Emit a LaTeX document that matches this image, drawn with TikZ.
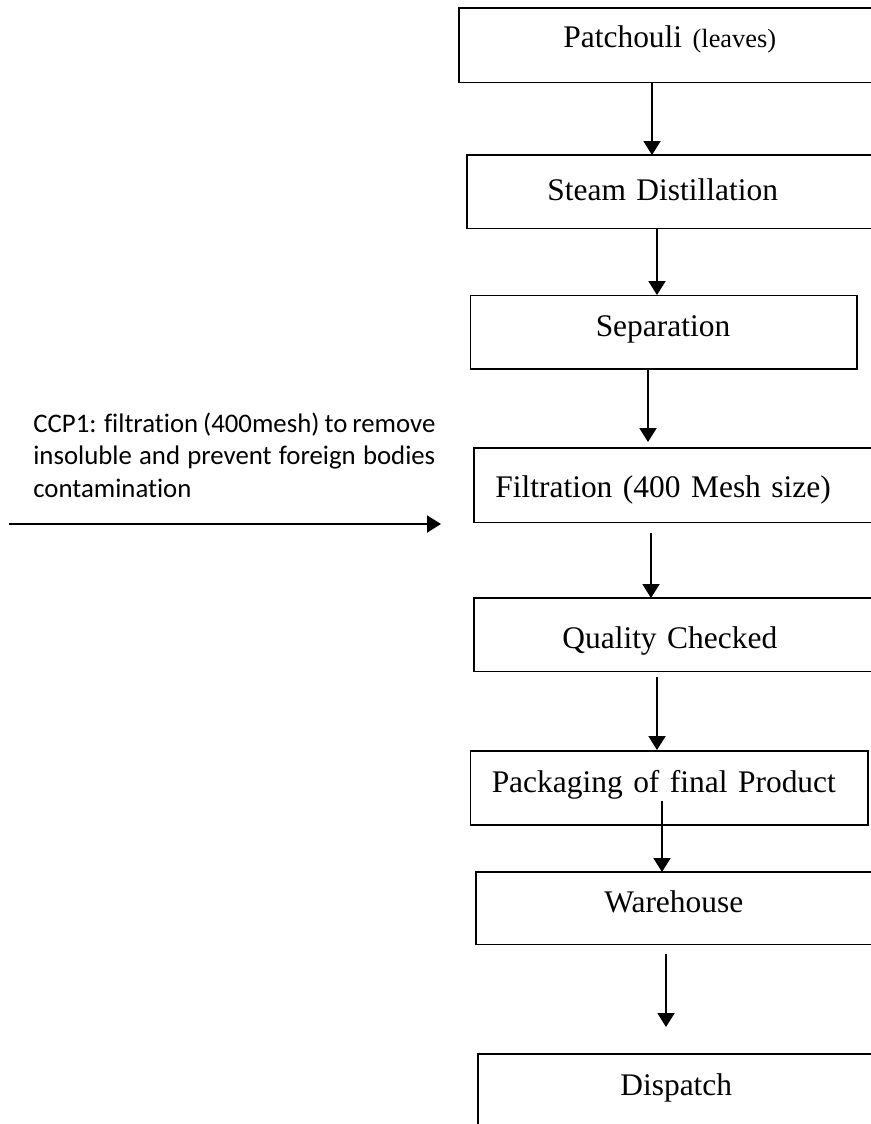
\documentclass[tikz,border=0pt]{standalone}
\usepackage{fontspec}
\setmainfont{Liberation Serif}
\newfontfamily\notefont[Ligatures=NoCommon]{Carlito}
\usetikzlibrary{arrows.meta}
\tikzset{
  stepbox/.style={anchor=north west, inner ysep=0pt, align=left,
    font=\fontsize{17.9}{21}\selectfont},
  boxline/.style={line width=0.85pt},
  arr/.style={line width=1.1pt, -{Triangle[length=2.8mm,width=3.4mm]}}
}
\begin{document}
\begin{tikzpicture}
\useasboundingbox (0,0) rectangle (17.4,-22.48);
\node[stepbox, inner xsep=2.08cm, text width=4.66cm, text height=0.78cm, text depth=0.70cm] (pat) at (9.18,-0.16) {Patchouli {\fontsize{15}{18}\selectfont(leaves)}};
\node[stepbox, inner xsep=1.6cm, text width=5.46cm, text height=0.9cm, text depth=0.56cm] (steam) at (9.34,-3.10) {Steam Distillation};
\node[stepbox, draw, boxline, inner xsep=2.5cm, text width=2.72cm, text height=0.82cm, text depth=0.64cm] (sep) at (9.40,-5.90) {Separation};
\node[stepbox, inner xsep=0.42cm, text width=7.68cm, text height=0.98cm, text depth=0.5cm] (filt) at (9.48,-8.96) {Filtration (400 Mesh size)};
\node[stepbox, inner xsep=1.76cm, text width=4.99cm, text height=1.0cm, text depth=0.46cm] (qual) at (9.48,-11.96) {Quality Checked};
\node[stepbox, draw, boxline, inner xsep=0.42cm, text width=7.1cm, text height=0.84cm, text depth=0.64cm] (pack) at (9.40,-15.00) {Packaging of final Product};
\node[stepbox, inner xsep=2.56cm, text width=3.36cm, text height=0.8cm, text depth=0.64cm] (ware) at (9.52,-17.44) {Warehouse};
\node[stepbox, inner xsep=2.84cm, text width=2.76cm, text height=0.82cm, text depth=0.8cm] (disp) at (9.56,-21.08) {Dispatch};
% boxes running off the right edge of the page
\foreach \n in {pat,steam,filt,qual,ware,disp}
  \draw[boxline] (\n.north east) -- (\n.north west) -- (\n.south west) -- (\n.south east);
% critical control point note
\node[anchor=base west, inner sep=0pt, text width=8.04cm, align=justify,
  font=\notefont\fontsize{15.25}{18.5}\selectfont] (ccp) at (0.66,-8.64)
  {CCP1: filtration (400mesh) to remove insoluble and prevent foreign bodies contamination};
\coordinate (ccpin) at (0.18,-10.48);
\draw[arr, shorten >=0.66cm] (ccpin) -- (ccpin -| filt.west);
% flow
\draw[arr] ([xshift=3.86cm]pat.south west) coordinate (a1) -- (a1 |- steam.north);
\draw[arr] ([xshift=3.8cm]steam.south west) coordinate (a2) -- (a2 |- sep.north);
\draw[arr, shorten >=0.12cm] ([xshift=3.56cm]sep.south west) coordinate (a3) -- (a3 |- filt.north);
\draw[arr, shorten <=0.2cm] ([xshift=3.54cm]filt.south west) coordinate (a4) -- (a4 |- qual.north);
\draw[arr, shorten <=0.1cm] ([xshift=3.66cm]qual.south west) coordinate (a5) -- (a5 |- pack.north);
\draw[arr] ([xshift=3.84cm,yshift=0.5cm]pack.south west) coordinate (a6) -- (a6 |- ware.north);
\draw[arr, shorten <=0.18cm, shorten >=0.54cm] ([xshift=3.8cm]ware.south west) coordinate (a7) -- (a7 |- disp.north);
\end{tikzpicture}
\end{document}
